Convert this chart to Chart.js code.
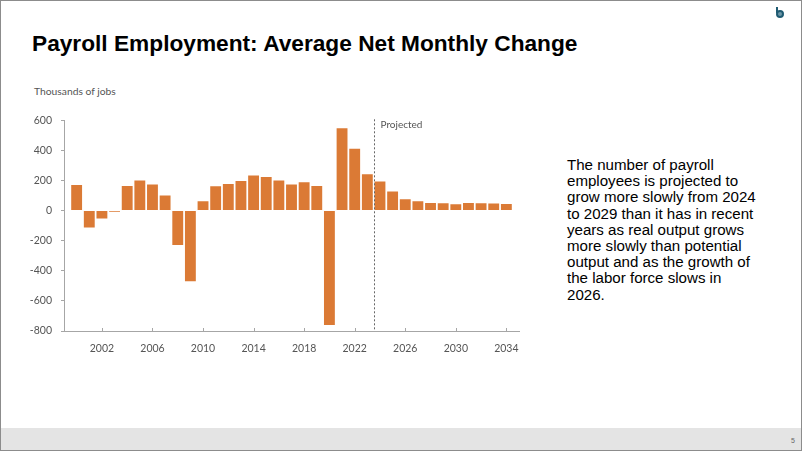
<!DOCTYPE html>
<html>
<head>
<meta charset="utf-8">
<script src="https://cdn.jsdelivr.net/npm/chart.js@4.4.0/dist/chart.umd.min.js"></script>
<style>
    html, body { margin: 0; padding: 0; background: #fff; }
    .slide {
        position: relative;
        width: 802px;
        height: 451px;
        box-sizing: border-box;
        border: 1px solid #8c8c8c;
        overflow: hidden;
        font-family: "Liberation Sans", Arial, sans-serif;
    }
    .title {
        position: absolute;
        left: 31px;
        top: 31px;
        font-size: 22.7px;
        line-height: 22px;
        font-weight: bold;
        color: #000;
        white-space: nowrap;
    }
    .units {
        position: absolute;
        left: 33px;
        top: 84px;
        font-family: Lato, sans-serif;
        font-size: 10.3px;
        color: #555;
    }
    .chart-box {
        position: absolute;
        left: 20px;
        top: 104px;
        width: 500px;
        height: 256px;
    }
    .note {
        position: absolute;
        left: 566px;
        top: 156px;
        font-size: 15.1px;
        line-height: 16.2px;
        color: #000;
        white-space: nowrap;
    }
    .footer {
        position: absolute;
        left: 0;
        bottom: 0;
        width: 100%;
        height: 22px;
        background: #e4e4e4;
    }
    .page-num {
        position: absolute;
        right: 6px;
        bottom: 6px;
        font-size: 7px;
        color: #666;
    }
    .logo {
        position: absolute;
        left: 775px;
        top: 9px;
        width: 4px;
        height: 4px;
        border: 2.5px solid #1f5b72;
        border-radius: 50%;
        background: #6d97a8;
    }
    .logo::before {
        content: '';
        position: absolute;
        left: -2.5px;
        top: -5px;
        width: 2px;
        height: 6px;
        background: #1f5b72;
    }
</style>
</head>
<body>
<div class="slide">
    <div class="title">Payroll Employment: Average Net Monthly Change</div>
    <div class="logo"></div>
    <div class="units">Thousands of jobs</div>
    <div class="chart-box"><canvas id="payrollChart"></canvas></div>
    <div class="note">
        The number of payroll<br>
        employees is projected to<br>
        grow more slowly from 2024<br>
        to 2029 than it has in recent<br>
        years as real output grows<br>
        more slowly than potential<br>
        output and as the growth of<br>
        the labor force slows in<br>
        2026.
    </div>
    <div class="footer"><span class="page-num">5</span></div>
</div>

<script>
// Years shown on the chart
const years = [2000, 2001, 2002, 2003, 2004, 2005, 2006, 2007, 2008, 2009,
               2010, 2011, 2012, 2013, 2014, 2015, 2016, 2017, 2018, 2019,
               2020, 2021, 2022, 2023, 2024, 2025, 2026, 2027, 2028, 2029,
               2030, 2031, 2032, 2033, 2034];

// Average net monthly change, thousands of jobs
const jobChanges = [170, -113, -53, -7, 164, 200, 173, 100, -229, -469,
                    62, 162, 176, 196, 233, 224, 200, 173, 189, 164,
                    -760, 547, 411, 242, 193, 127, 76, 62, 51, 49,
                    42, 51, 49, 47, 44];

// Tick labels
const xTickYears = [2002, 2006, 2010, 2014, 2018, 2022, 2026, 2030, 2034];
const yTickValues = [-800, -600, -400, -200, 0, 200, 400, 600];

const projectionStart = 2023.5;
const projectedLabel = 'Projected';

const axisColor = '#a6a6a6';
const tickTextColor = '#555';

// Small upward tick marks on the x axis + the dotted "Projected" divider
const extrasPlugin = {
    id: 'extras',
    afterDatasetsDraw(chart) {
        const ctx = chart.ctx;
        const xScale = chart.scales.x;
        const area = chart.chartArea;

        ctx.save();
        ctx.strokeStyle = axisColor;
        ctx.lineWidth = 1;
        xTickYears.forEach(year => {
            const x = Math.round(xScale.getPixelForValue(year)) + 0.5;
            ctx.beginPath();
            ctx.moveTo(x, area.bottom);
            ctx.lineTo(x, area.bottom - 3);
            ctx.stroke();
        });

        const px = Math.round(xScale.getPixelForValue(projectionStart)) + 0.5;
        ctx.strokeStyle = '#666';
        ctx.setLineDash([2, 2]);
        ctx.beginPath();
        ctx.moveTo(px, area.top - 1);
        ctx.lineTo(px, area.bottom);
        ctx.stroke();
        ctx.setLineDash([]);

        ctx.fillStyle = '#555';
        ctx.font = '10px Lato, sans-serif';
        ctx.textBaseline = 'middle';
        ctx.fillText(projectedLabel, px + 6, area.top + 4);
        ctx.restore();
    }
};

document.addEventListener('DOMContentLoaded', function() {
    const ctx = document.getElementById('payrollChart').getContext('2d');

    new Chart(ctx, {
        type: 'bar',
        data: {
            datasets: [{
                data: years.map((year, i) => ({ x: year, y: jobChanges[i] })),
                backgroundColor: '#db7a35',
                borderWidth: 0,
                categoryPercentage: 0.86,
                barPercentage: 1
            }]
        },
        options: {
            responsive: true,
            maintainAspectRatio: false,
            animation: false,
            layout: {
                padding: { top: 4, right: 2, bottom: 0, left: 0 }
            },
            plugins: {
                legend: { display: false },
                tooltip: { enabled: false }
            },
            scales: {
                x: {
                    type: 'linear',
                    offset: false,
                    min: 1999,
                    max: 2035,
                    afterBuildTicks: scale => {
                        scale.ticks = xTickYears.map(v => ({ value: v }));
                    },
                    afterFit: scale => {
                        scale.height = 30;
                        scale.paddingLeft = 0;
                        scale.paddingRight = 0;
                    },
                    grid: { display: false },
                    border: { display: true, color: axisColor, width: 1 },
                    ticks: {
                        autoSkip: false,
                        maxRotation: 0,
                        padding: 3,
                        color: tickTextColor,
                        font: { family: 'Lato, sans-serif', size: 10.5 },
                        callback: value => String(value)
                    }
                },
                y: {
                    min: -800,
                    max: 600,
                    afterBuildTicks: scale => {
                        scale.ticks = yTickValues.map(v => ({ value: v }));
                    },
                    afterFit: scale => { scale.width = 43; },
                    grid: {
                        display: true,
                        drawOnChartArea: false,
                        drawTicks: true,
                        tickLength: 3,
                        color: axisColor
                    },
                    border: { display: true, color: axisColor, width: 1 },
                    ticks: {
                        padding: 9,
                        color: tickTextColor,
                        font: { family: 'Lato, sans-serif', size: 10.5 }
                    }
                }
            }
        },
        plugins: [extrasPlugin]
    });
});
</script>
</body>
</html>
